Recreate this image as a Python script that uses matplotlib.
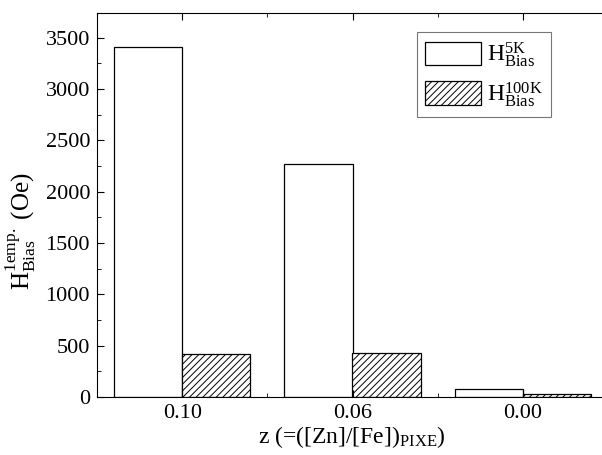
import numpy as np
import matplotlib
matplotlib.use('Agg')
import matplotlib.pyplot as plt
from matplotlib.ticker import MultipleLocator

plt.rcParams['font.family'] = ['Liberation Serif', 'DejaVu Serif']
plt.rcParams['mathtext.fontset'] = 'custom'
plt.rcParams['mathtext.rm'] = 'Liberation Serif'
plt.rcParams['mathtext.it'] = 'Liberation Serif:italic'
plt.rcParams['hatch.color'] = '#444444'
plt.rcParams['hatch.linewidth'] = 0.7

# data
categories = ['0.10', '0.06', '0.00']
h_bias_5k = [3412, 2266, 82]
h_bias_100k = [423, 433, 26]

fig = plt.figure(figsize=(6.02, 4.55), dpi=100)
W, H = 602, 455
ax = fig.add_axes([97 / W, 1 - 397 / H, (608 - 97) / W, (397 - 13) / H])

x = np.arange(len(categories))
width = 0.4
ax.bar(x - width / 2, h_bias_5k, width, facecolor='white', edgecolor='black',
       linewidth=0.9, label=r'H$^{\mathrm{5K}}_{\mathrm{Bias}}$')
ax.bar(x + width / 2, h_bias_100k, width, facecolor='white', edgecolor='black',
       linewidth=0.9, hatch='/////', label=r'H$^{\mathrm{100K}}_{\mathrm{Bias}}$')

ax.set_xlim(-0.5, 2.5)
ax.set_ylim(0, 3740)
ax.set_xticks(x)
ax.set_xticklabels(categories)
ax.set_xticks(x[:-1] + 0.5, minor=True)
ax.yaxis.set_major_locator(MultipleLocator(500))
ax.yaxis.set_minor_locator(MultipleLocator(250))
ax.tick_params(which='both', direction='in', top=True, right=False, labelsize=16)
ax.tick_params(which='major', length=5, pad=5)
ax.tick_params(which='minor', length=3)
ax.spines['right'].set_visible(False)

ax.set_xlabel(r'z (=([Zn]/[Fe])$_{\mathrm{PIXE}}$)', fontsize=17)
ax.set_ylabel(r'H$^{\mathrm{1emp.}}_{\mathrm{Bias}}$ (Oe)', fontsize=18)
ax.xaxis.set_label_coords(0.5 * (258 + 445) / 511 - 97 / 511, -(450 - 397) / 384)
ax.xaxis.label.set_va('bottom')
ax.yaxis.set_label_coords((38 - 97) / 511, 1 - (231 - 13) / 384)

leg = ax.legend(loc='upper left', bbox_to_anchor=((417 - 97) / 511, 1 - (32 - 13) / 384),
                borderaxespad=0, fontsize=17, frameon=True, fancybox=False,
                edgecolor='#555555', handlelength=2.35, handleheight=1.15,
                borderpad=0.35, labelspacing=0.45, handletextpad=0.25)
leg.get_frame().set_linewidth(0.8)

fig.savefig('out.png', dpi=100)
